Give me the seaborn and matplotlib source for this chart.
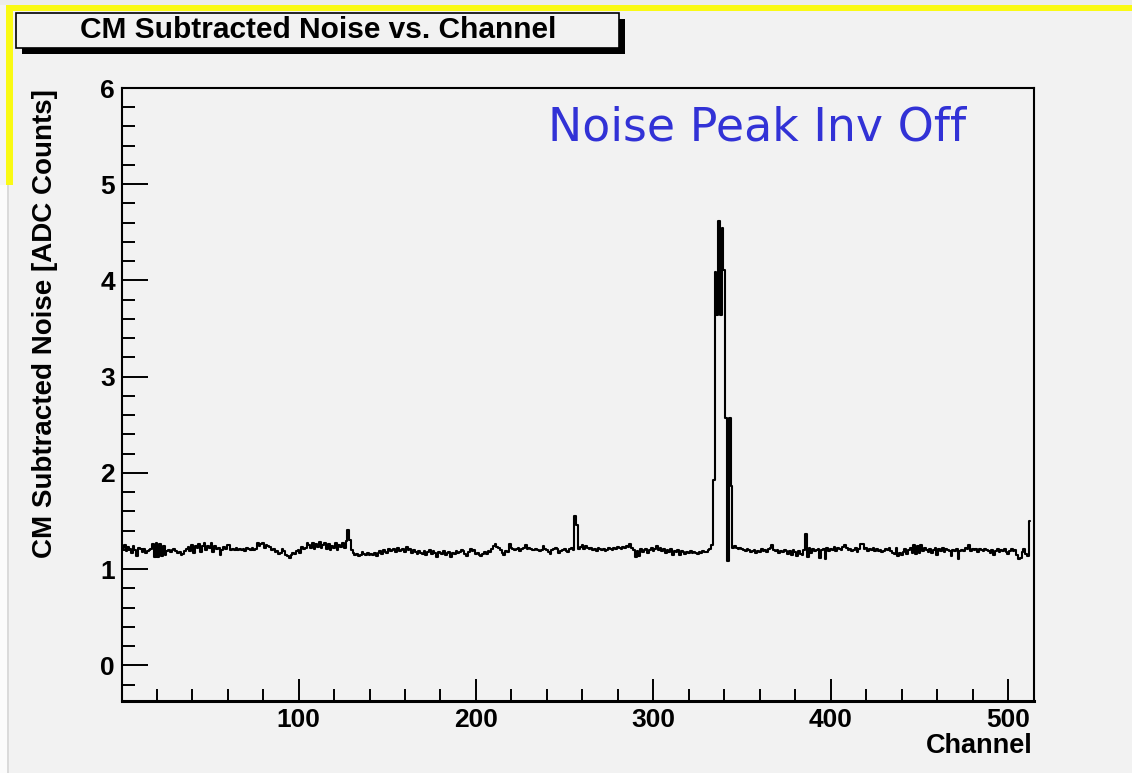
import numpy as np
import pandas as pd
import seaborn as sns
import matplotlib.pyplot as plt
from matplotlib.patches import Rectangle
from matplotlib.ticker import MultipleLocator

# CM subtracted noise per channel (1..512)
noise = [
    1.22, 1.25, 1.19, 1.23, 1.21, 1.17, 1.24, 1.20,
    1.14, 1.22, 1.21, 1.18, 1.21, 1.17, 1.19, 1.20,
    1.21, 1.26, 1.13, 1.27, 1.13, 1.26, 1.14, 1.24,
    1.15, 1.19, 1.20, 1.18, 1.20, 1.21, 1.19, 1.17,
    1.18, 1.15, 1.16, 1.19, 1.21, 1.23, 1.19, 1.25,
    1.17, 1.24, 1.22, 1.26, 1.18, 1.24, 1.27, 1.20,
    1.24, 1.22, 1.27, 1.18, 1.24, 1.21, 1.22, 1.15,
    1.20, 1.23, 1.21, 1.25, 1.25, 1.20, 1.21, 1.20,
    1.22, 1.20, 1.21, 1.20, 1.21, 1.19, 1.22, 1.21,
    1.20, 1.22, 1.20, 1.21, 1.27, 1.24, 1.26, 1.27,
    1.22, 1.25, 1.24, 1.23, 1.20, 1.21, 1.18, 1.19,
    1.16, 1.17, 1.21, 1.19, 1.15, 1.14, 1.12, 1.15,
    1.17, 1.16, 1.19, 1.20, 1.17, 1.23, 1.21, 1.22,
    1.27, 1.25, 1.22, 1.27, 1.21, 1.26, 1.23, 1.28,
    1.22, 1.25, 1.27, 1.21, 1.26, 1.20, 1.24, 1.22,
    1.27, 1.20, 1.25, 1.23, 1.27, 1.22, 1.29, 1.41,
    1.30, 1.20, 1.17, 1.15, 1.16, 1.14, 1.15, 1.18,
    1.16, 1.15, 1.17, 1.15, 1.16, 1.15, 1.17, 1.14,
    1.17, 1.19, 1.16, 1.20, 1.18, 1.17, 1.21, 1.19,
    1.20, 1.21, 1.18, 1.22, 1.19, 1.20, 1.21, 1.18,
    1.23, 1.20, 1.21, 1.17, 1.20, 1.18, 1.16, 1.19,
    1.17, 1.16, 1.19, 1.15, 1.18, 1.20, 1.16, 1.19,
    1.17, 1.13, 1.18, 1.17, 1.16, 1.19, 1.15, 1.17,
    1.18, 1.13, 1.17, 1.16, 1.19, 1.17, 1.18, 1.20,
    1.19, 1.16, 1.14, 1.18, 1.21, 1.19, 1.20, 1.16,
    1.17, 1.15, 1.14, 1.16, 1.18, 1.16, 1.19, 1.18,
    1.21, 1.24, 1.26, 1.23, 1.22, 1.20, 1.17, 1.15,
    1.19, 1.18, 1.26, 1.22, 1.21, 1.20, 1.21, 1.22,
    1.19, 1.21, 1.22, 1.25, 1.21, 1.22, 1.21, 1.20,
    1.20, 1.21, 1.20, 1.19, 1.20, 1.24, 1.21, 1.20,
    1.18, 1.16, 1.20, 1.21, 1.22, 1.21, 1.17, 1.19,
    1.20, 1.21, 1.19, 1.18, 1.21, 1.22, 1.20, 1.55,
    1.46, 1.21, 1.23, 1.25, 1.21, 1.24, 1.22, 1.21,
    1.22, 1.20, 1.21, 1.19, 1.22, 1.21, 1.20, 1.21,
    1.19, 1.20, 1.22, 1.21, 1.20, 1.22, 1.21, 1.23,
    1.22, 1.21, 1.23, 1.22, 1.24, 1.23, 1.26, 1.22,
    1.20, 1.13, 1.19, 1.14, 1.21, 1.18, 1.20, 1.21,
    1.17, 1.20, 1.22, 1.19, 1.21, 1.24, 1.20, 1.22,
    1.19, 1.21, 1.17, 1.20, 1.18, 1.21, 1.15, 1.19,
    1.18, 1.20, 1.15, 1.19, 1.18, 1.16, 1.18, 1.17,
    1.19, 1.17, 1.18, 1.17, 1.16, 1.18, 1.17, 1.19,
    1.18, 1.18, 1.20, 1.21, 1.25, 1.93, 4.09, 3.64,
    4.62, 3.64, 4.54, 4.11, 2.57, 1.08, 2.57, 1.86,
    1.22, 1.24, 1.22, 1.21, 1.22, 1.21, 1.20, 1.19,
    1.21, 1.20, 1.18, 1.19, 1.20, 1.17, 1.19, 1.18,
    1.21, 1.19, 1.20, 1.18, 1.21, 1.22, 1.25, 1.20,
    1.19, 1.20, 1.17, 1.19, 1.18, 1.20, 1.19, 1.16,
    1.19, 1.15, 1.20, 1.18, 1.14, 1.19, 1.16, 1.15,
    1.20, 1.37, 1.13, 1.22, 1.17, 1.21, 1.19, 1.20,
    1.21, 1.12, 1.20, 1.21, 1.11, 1.22, 1.19, 1.21,
    1.20, 1.23, 1.19, 1.22, 1.21, 1.20, 1.23, 1.25,
    1.22, 1.20, 1.21, 1.19, 1.20, 1.22, 1.18, 1.21,
    1.26, 1.26, 1.21, 1.22, 1.19, 1.21, 1.20, 1.22,
    1.19, 1.21, 1.19, 1.20, 1.18, 1.19, 1.21, 1.20,
    1.22, 1.19, 1.17, 1.16, 1.22, 1.14, 1.17, 1.15,
    1.18, 1.21, 1.16, 1.20, 1.22, 1.17, 1.25, 1.16,
    1.24, 1.17, 1.25, 1.19, 1.22, 1.20, 1.18, 1.21,
    1.17, 1.20, 1.22, 1.15, 1.21, 1.19, 1.22, 1.18,
    1.21, 1.20, 1.19, 1.14, 1.20, 1.19, 1.21, 1.11,
    1.19, 1.20, 1.19, 1.22, 1.21, 1.25, 1.19, 1.21,
    1.20, 1.21, 1.18, 1.21, 1.20, 1.19, 1.21, 1.20,
    1.19, 1.17, 1.20, 1.15, 1.19, 1.21, 1.18, 1.20,
    1.19, 1.21, 1.18, 1.16, 1.19, 1.21, 1.19, 1.20,
    1.15, 1.11, 1.12, 1.18, 1.21, 1.16, 1.14, 1.50,
]
channels = list(range(1, len(noise) + 1))

title = "CM Subtracted Noise vs. Channel"
x_label = "Channel"
y_label = "CM Subtracted Noise [ADC Counts]"
note = "Noise Peak Inv Off"

df = pd.DataFrame({"channel": channels, "noise": noise})

sns.set_style("ticks")
plt.rcParams["font.family"] = ["Liberation Sans", "DejaVu Sans"]
plt.rcParams["text.color"] = "black"
plt.rcParams["xtick.color"] = "black"
plt.rcParams["ytick.color"] = "black"

W, H = 1132, 773
bg = "#f2f2f2"
yellow = "#fafa14"
fig = plt.figure(figsize=(W / 100, H / 100), dpi=100, facecolor=bg)


def px(x, y):
    # pixel position (from top left) -> figure fraction
    return x / W, 1 - y / H


def frect(x0, y0, x1, y1, **kw):
    # rectangle in pixel coords (top-left origin) on the figure
    fig.patches.append(Rectangle(px(x0, y1), (x1 - x0) / W, (y1 - y0) / H,
                                 transform=fig.transFigure, **kw))


# slide decorations: faded strip at top, yellow border
frect(0, 0, W, 5, facecolor="#ececec", edgecolor="none")
frect(0, 5, W, 11, facecolor=yellow, edgecolor="none")
frect(0, 185, 7, H, facecolor="#fbfbfb", edgecolor="none")
frect(7, 185, 9, H, facecolor="#dadada", edgecolor="none")
frect(0, 5, 6, 185, facecolor="#f4f4f4", edgecolor="none")
frect(6, 5, 13, 185, facecolor=yellow, edgecolor="none")

# title box with shadow
frect(22, 19, 625, 54, facecolor="black", edgecolor="none")
frect(16, 13, 619, 48, facecolor=bg, edgecolor="black", linewidth=1.2)
fig.text(*px(318, 30), title, ha="center", va="center", fontsize=21.5, fontweight="bold")

ax = fig.add_axes([122 / W, 1 - 701 / H, 912 / W, 613 / H])
ax.set_facecolor(bg)

sns.lineplot(data=df, x="channel", y="noise", estimator=None, drawstyle="steps-mid",
             color="black", linewidth=1.5, ax=ax)

ax.set_xlim(0.5, 514.5)
ax.set_ylim(-0.37, 6.0)
ax.set_xlabel("")
ax.set_ylabel("")

ax.xaxis.set_major_locator(MultipleLocator(100))
ax.xaxis.set_minor_locator(MultipleLocator(20))
ax.yaxis.set_major_locator(MultipleLocator(1))
ax.yaxis.set_minor_locator(MultipleLocator(0.2))
ax.tick_params(axis="x", which="major", direction="in", length=16, width=1.4, pad=5, labelsize=19)
ax.tick_params(axis="x", which="minor", direction="in", length=8.5, width=1.4)
ax.tick_params(axis="y", which="major", direction="in", length=19, width=1.4, pad=5, labelsize=19)
ax.tick_params(axis="y", which="minor", direction="in", length=9, width=1.4)
for lab in ax.get_xticklabels() + ax.get_yticklabels():
    lab.set_fontweight("bold")

for s in ax.spines.values():
    s.set_visible(True)
    s.set_linewidth(1.5)
    s.set_color("black")
ax.spines["bottom"].set_linewidth(2.2)

fig.text(*px(1033, 746), x_label, ha="right", va="center", fontsize=19.5, fontweight="bold")
fig.text(*px(45, 324), y_label, ha="center", va="center", rotation=90,
         fontsize=20, fontweight="bold")
fig.text(*px(548, 128), note, ha="left", va="center", fontsize=33, color="#3232d6",
         family=["DejaVu Sans"])

fig.savefig("out.png", dpi=100, facecolor=bg)
